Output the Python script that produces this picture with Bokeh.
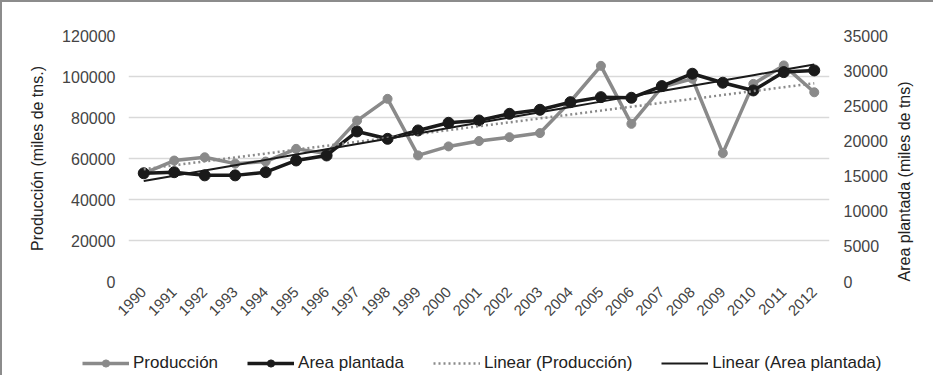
import math
import numpy as np
from bokeh.plotting import figure
from bokeh.layouts import column
from bokeh.models import (Range1d, LinearAxis, Legend, LegendItem, FixedTicker,
                          SingleIntervalTicker, BasicTickFormatter, FactorRange)
from bokeh.embed import file_html
from bokeh.resources import INLINE

years = [str(y) for y in range(1990, 2013)]
produccion = [52800, 59000, 60600, 57500, 58500, 64700, 62400, 78500, 89100, 61500,
              65900, 68500, 70400, 72400, 87800, 105200, 76900, 94800, 98900, 62600,
              96400, 105400, 92300]
area = [15400, 15550, 15100, 15100, 15550, 17220, 17930, 21350, 20300, 21490,
        22580, 22910, 23860, 24430, 25510, 26230, 26140, 27800, 29560, 28280,
        27180, 29790, 30030]
left_ticks = [0, 20000, 40000, 60000, 80000, 100000, 120000]
series_names = ["Producción", "Area plantada", "Linear (Producción)", "Linear (Area plantada)"]

idx = np.arange(len(years))
pf = np.polyfit(idx, produccion, 1)
af = np.polyfit(idx, area, 1)
trend_p = list(np.polyval(pf, idx))
trend_a = list(np.polyval(af, idx))

FONT = "Liberation Sans"
GRAY = "#8a8a8a"
BLACK = "#1a1a1a"


def draw_series(fig, right_name=None):
    kw = {} if right_name is None else {"y_range_name": right_name}
    r1 = fig.line(years, produccion, line_color=GRAY, line_width=3.5)
    r2 = fig.scatter(years, produccion, size=9, fill_color=GRAY, line_color=GRAY)
    r3 = fig.line(years, area, line_color=BLACK, line_width=3.5, **kw)
    r4 = fig.scatter(years, area, size=11, fill_color=BLACK, line_color=BLACK, **kw)
    r5 = fig.line(years, trend_p, line_color=GRAY, line_width=2.5, line_dash="2 3")
    r6 = fig.line(years, trend_a, line_color=BLACK, line_width=2, **kw)
    return r1, r2, r3, r4, r5, r6


p = figure(width=931, height=341, x_range=FactorRange(*years),
           y_range=Range1d(0, 120000), output_backend="svg", toolbar_location=None,
           min_border_left=126, min_border_right=104, min_border_top=33, min_border_bottom=62)
p.extra_y_ranges = {"right": Range1d(0, 35000)}
p.outline_line_color = None
p.background_fill_color = "white"
p.border_fill_color = "white"

p.xgrid.grid_line_color = None
p.ygrid.grid_line_color = "#d9d9d9"
p.ygrid.grid_line_width = 1.5
p.ygrid.ticker = FixedTicker(ticks=left_ticks)

draw_series(p, "right")

yl = p.yaxis[0]
yl.ticker = FixedTicker(ticks=left_ticks)
yl.formatter = BasicTickFormatter(use_scientific=False)
yl.axis_label = "Producción (miles de tns.)"

yr = LinearAxis(y_range_name="right", ticker=SingleIntervalTicker(interval=5000),
                formatter=BasicTickFormatter(use_scientific=False),
                axis_label="Area plantada (miles de tns)")
p.add_layout(yr, "right")

xa = p.xaxis[0]
for ax in [yl, yr, xa]:
    ax.axis_line_color = None
    ax.major_tick_line_color = None
    ax.minor_tick_line_color = None
    ax.major_tick_out = 0
    ax.major_tick_in = 0
    ax.minor_tick_out = 0
    ax.minor_tick_in = 0
    ax.major_label_text_font = FONT
    ax.major_label_text_font_size = "16px"
    ax.major_label_text_color = "#444444"
    ax.axis_label_text_font = FONT
    ax.axis_label_text_font_size = "16px"
    ax.axis_label_text_font_style = "normal"
    ax.axis_label_text_color = "#222222"
yl.major_label_standoff = 13
yr.major_label_standoff = 14
yl.axis_label_standoff = 13
yr.axis_label_standoff = 14
yr.axis_label_orientation = math.pi / 2
if hasattr(yr, "axis_label_align"):
    yr.axis_label_align = "start"
xa.major_label_orientation = math.pi / 4
xa.major_label_standoff = 8
xa.major_label_text_font_size = "15px"

# legend strip below the chart: same series, drawn outside its (empty) value range
lg = figure(width=931, height=32, x_range=FactorRange(*years), y_range=Range1d(-2, -1),
            output_backend="svg", toolbar_location=None, x_axis_type=None, y_axis_type=None,
            min_border=0)
lg.extra_y_ranges = {"right": Range1d(-2, -1)}
lg.outline_line_color = None
lg.grid.grid_line_color = None
lg.background_fill_color = "white"
lg.border_fill_color = "white"
l1, s1, l2, s2, l3, l4 = draw_series(lg, "right")

for f in (p, lg):
    if hasattr(f, "frame_align"):
        f.frame_align = False

legend = Legend(items=[
    LegendItem(label=series_names[0], renderers=[l1, s1]),
    LegendItem(label=series_names[1], renderers=[l2, s2]),
    LegendItem(label=series_names[2], renderers=[l3]),
    LegendItem(label=series_names[3], renderers=[l4]),
], orientation="horizontal", location=(80, 2), glyph_width=47, glyph_height=18,
    label_text_font=FONT, label_text_font_size="17px", label_text_color="#222222",
    spacing=29, padding=0, margin=0, label_standoff=4,
    border_line_color=None, background_fill_alpha=0)
lg.add_layout(legend, "center")

layout = column(p, lg, spacing=0,
                styles={"border-top": "2px solid #8c8c8c", "border-left": "2px solid #8c8c8c"})

open("out.html", "w").write(file_html(layout, INLINE))
